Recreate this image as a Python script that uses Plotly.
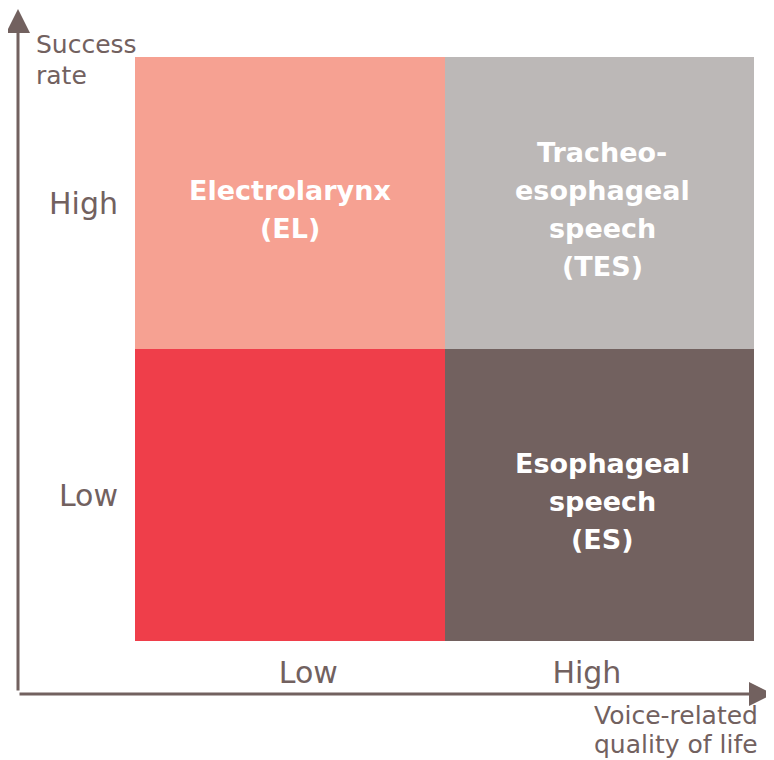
import plotly.graph_objects as go

# Data
x_levels = ["Low", "High"]          # Voice-related quality of life
y_levels = ["Low", "High"]          # Success rate
cell_labels = [
    ["", "Esophageal<br>speech<br>(ES)"],                       # Low success
    ["Electrolarynx<br>(EL)", "Tracheo-<br>esophageal<br>speech<br>(TES)"],  # High success
]
cell_index = [[0, 1], [2, 3]]
cell_colors = ["#EF3E4A", "#72615F", "#F6A192", "#BCB8B7"]
y_title_lines = ["Success", "rate"]
x_title_lines = ["Voice-related", "quality of life"]

axis_color = "#72615F"
font_family = "'DejaVu Sans', sans-serif"

x_pos = [i + 0.5 for i in range(len(x_levels))]
y_pos = [i + 0.5 for i in range(len(y_levels))]

n = len(cell_colors)
colorscale = []
for i, c in enumerate(cell_colors):
    colorscale.append([i / n, c])
    colorscale.append([(i + 1) / n, c])

fig = go.Figure(go.Heatmap(
    x=x_pos, y=y_pos, z=cell_index,
    zmin=-0.5, zmax=n - 0.5,
    colorscale=colorscale, showscale=False, hoverinfo="skip",
))

annotations = []
LINE_H = 38
for r, yv in enumerate(y_pos):
    for c, xv in enumerate(x_pos):
        if cell_labels[r][c]:
            lines = cell_labels[r][c].split("<br>")
            k = len(lines)
            for i, line in enumerate(lines):
                annotations.append(dict(
                    x=xv, y=yv, xref="x", yref="y", text=line,
                    showarrow=False, align="center", yanchor="middle",
                    yshift=-6 - (i - (k - 1) / 2) * LINE_H,
                    xshift=3 if c == 1 else 0,
                    font=dict(family=font_family, size=27, color="white", weight="bold"),
                ))

OFF = 8  # page body margin
W, H = 774 - OFF, 760 - OFF
L, T = 135 - OFF, 57 - OFF
R = W - (754 - OFF)
B = H - (641 - OFF)
pw, ph = W - L - R, H - T - B

def px(xp):
    return (xp - OFF - L) / pw

def py(yp):
    return (H - B - (yp - OFF)) / ph

# Axis arrows
annotations.append(dict(
    x=px(18), y=py(4), xref="paper", yref="paper", ax=0, ay=688,
    showarrow=True, arrowhead=2, arrowsize=1.6, arrowwidth=3, arrowcolor=axis_color, text="",
))
annotations.append(dict(
    x=px(777), y=py(694), xref="paper", yref="paper", ax=-759, ay=0,
    showarrow=True, arrowhead=2, arrowsize=1.6, arrowwidth=3, arrowcolor=axis_color, text="",
))
# Axis titles (one annotation per line for tighter spacing)
for line, yc in zip(y_title_lines, [45, 76]):
    annotations.append(dict(
        x=px(34), y=py(yc), xref="paper", yref="paper", xanchor="left", yanchor="middle",
        text=line, showarrow=False, align="left",
        font=dict(family=font_family, size=25, color=axis_color),
    ))
for line, yc in zip(x_title_lines, [715, 744]):
    annotations.append(dict(
        x=px(592), y=py(yc), xref="paper", yref="paper", xanchor="left", yanchor="middle",
        text=line, showarrow=False, align="left",
        font=dict(family=font_family, size=25, color=axis_color),
    ))

fig.update_layout(
    width=W, height=H,
    margin=dict(l=L, r=R, t=T, b=B),
    paper_bgcolor="white", plot_bgcolor="white",
    annotations=annotations,
    xaxis=dict(range=[0, 2], tickvals=[0.56, 1.46], ticktext=x_levels,
               showgrid=False, zeroline=False, showline=False, ticks="",
               tickfont=dict(family=font_family, size=30, color=axis_color),
               ticklabelstandoff=11),
    yaxis=dict(range=[0, 2], tickvals=y_pos, ticktext=y_levels,
               showgrid=False, zeroline=False, showline=False, ticks="",
               tickfont=dict(family=font_family, size=30, color=axis_color),
               ticklabelstandoff=16),
)

fig.write_html("out.html")
